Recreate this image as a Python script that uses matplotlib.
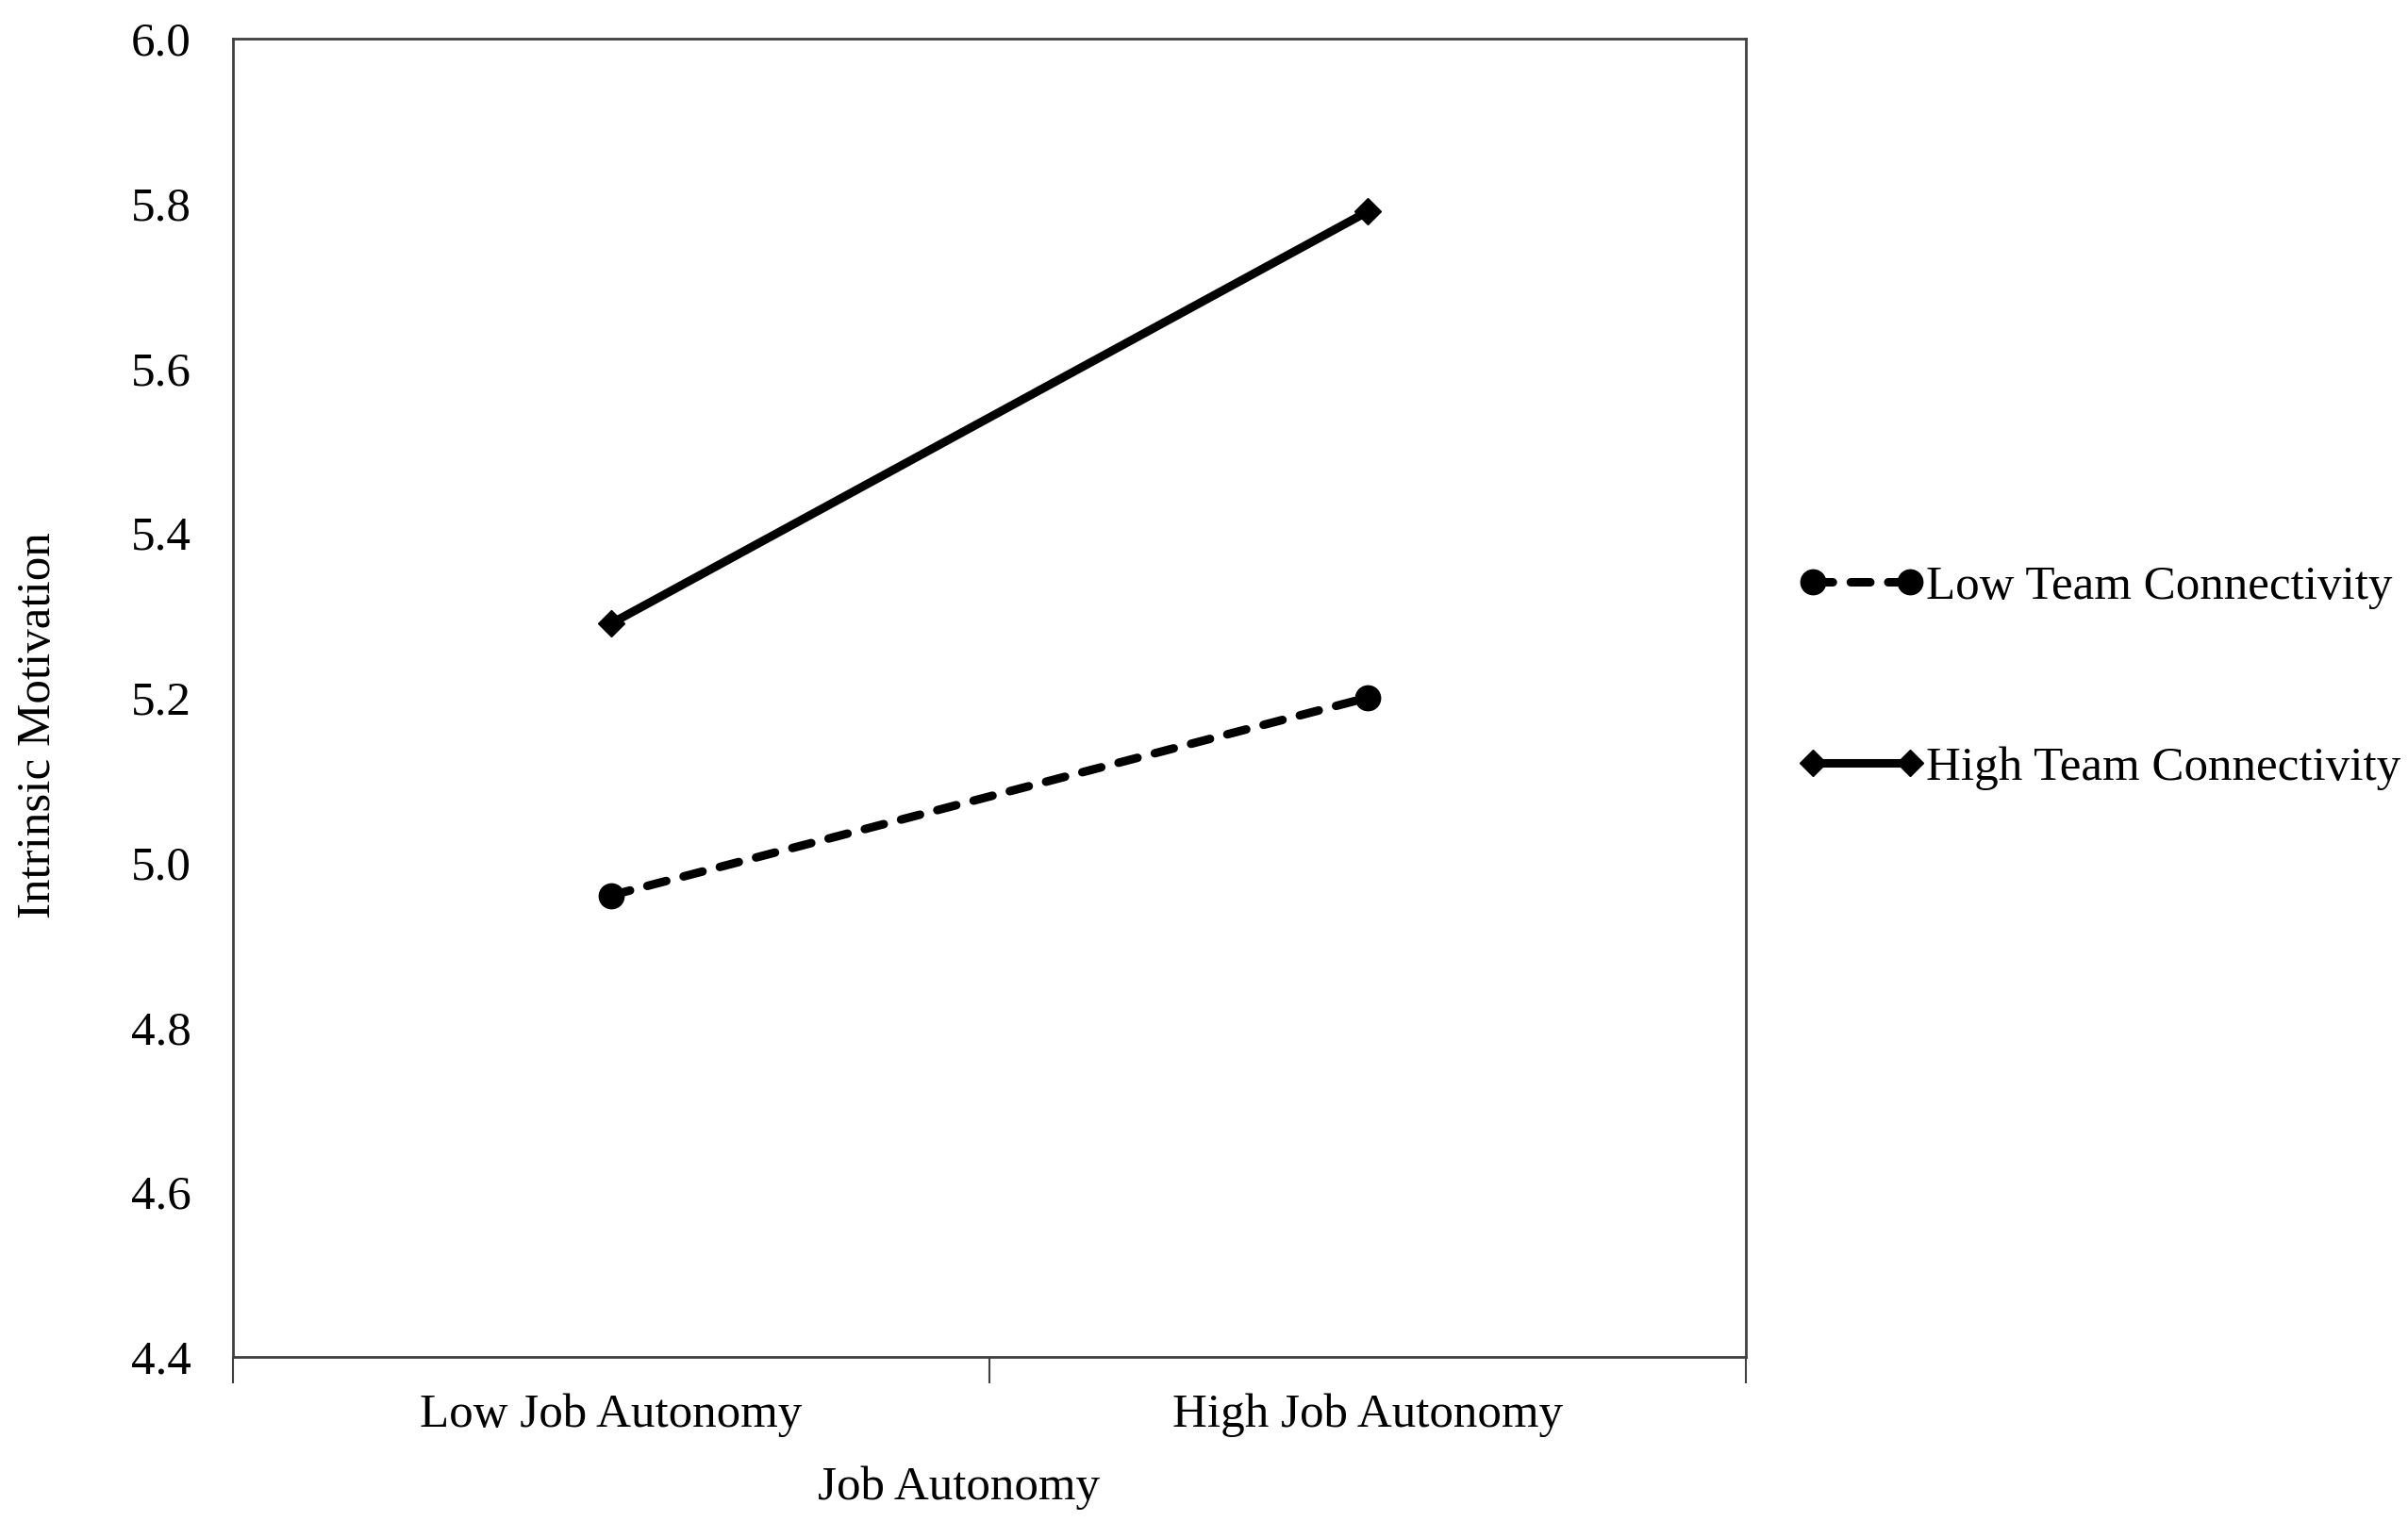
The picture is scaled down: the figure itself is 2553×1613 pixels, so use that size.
from matplotlib import pyplot as plt

# data
categories = ['Low Job Autonomy', 'High Job Autonomy']
low_team = [4.96, 5.20]
high_team = [5.29, 5.79]
series_names = ['Low Team Connectivity', 'High Team Connectivity']
y_ticks = [4.4, 4.6, 4.8, 5.0, 5.2, 5.4, 5.6, 5.8, 6.0]

plt.rcParams['font.family'] = ['Liberation Serif', 'DejaVu Serif']
fs = 36.7

fig = plt.figure(figsize=(25.53, 16.13), dpi=100)
ax = fig.add_axes([0.0967, 0.108, 0.6283, 0.8666])

x = list(range(len(categories)))
ax.plot(x, low_team, color='black', lw=6.5, linestyle=(0, (2.3, 2.1)),
        dash_capstyle='round', marker='o', markersize=19, label=series_names[0])
ax.plot(x, high_team, color='black', lw=6.5, marker='D', markersize=14,
        label=series_names[1])

ax.set_xlim(-0.5, len(categories) - 0.5)
ax.set_ylim(y_ticks[0], y_ticks[-1])
ax.set_yticks(y_ticks)
ax.set_yticklabels([f'{v:.1f}' for v in y_ticks], fontsize=fs)
ax.tick_params(axis='y', length=0, pad=32)

# ticks at category boundaries, labels centred on categories
ax.set_xticks([i - 0.5 for i in range(len(categories) + 1)])
ax.set_xticklabels([])
ax.set_xticks(x, minor=True)
ax.set_xticklabels(categories, minor=True, fontsize=fs)
ax.tick_params(axis='x', which='major', length=20, width=1.5, color='#404040')
ax.tick_params(axis='x', which='minor', length=0, pad=28)

for s in ax.spines.values():
    s.set_color('#404040')
    s.set_linewidth(2)

ax.set_xlabel('Job Autonomy', fontsize=fs)
ax.xaxis.set_label_coords(0.48, -0.0825)
ax.set_ylabel('Intrinsic Motivation', fontsize=fs)
ax.yaxis.set_label_coords(-0.114, 0.479)

fig.legend(loc='upper left', bbox_to_anchor=(0.739, 0.641), frameon=False,
           fontsize=fs, numpoints=2, handlelength=2.62, handletextpad=0.02,
           labelspacing=2.85, borderaxespad=0)

fig.savefig('out.png', dpi=100)
